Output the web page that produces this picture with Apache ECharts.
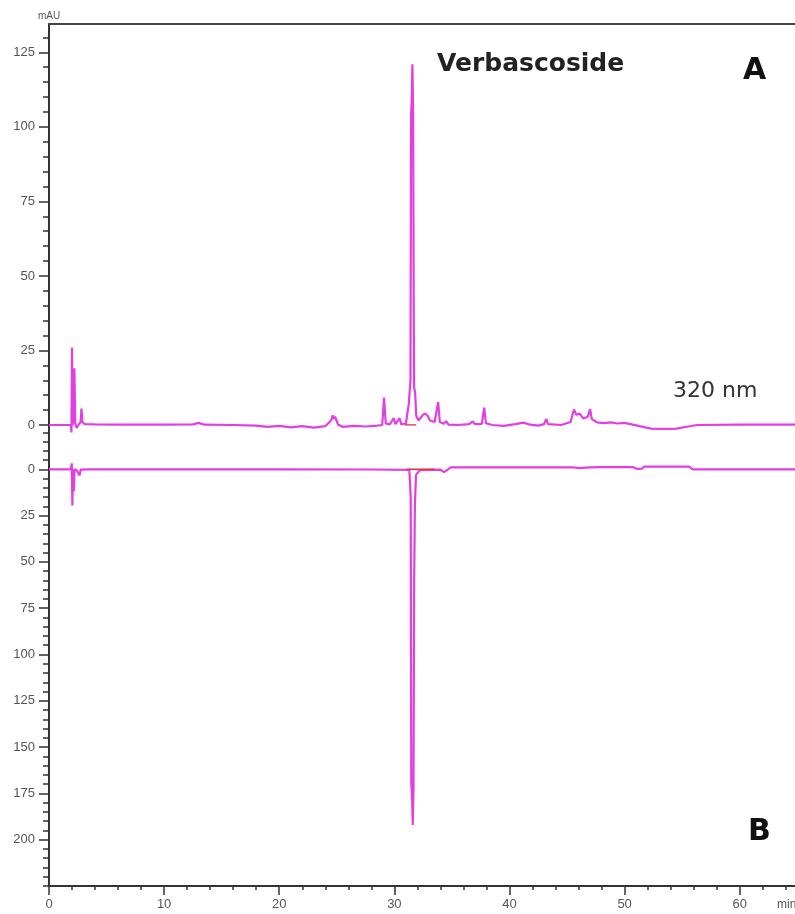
<!DOCTYPE html>
<html>
<head>
<meta charset="utf-8">
<script src="https://cdn.jsdelivr.net/npm/echarts@6/dist/echarts.min.js"></script>
<style>
html,body{margin:0;padding:0;background:#fff;}
#chart{width:795px;height:914px;}
</style>
</head>
<body>
<div id="chart"></div>
<script>
// ---- Data ----
// Trace A (320 nm), time in min, absorbance in mAU
const timeA = [0,1.9,1.95,2.0,2.05,2.12,2.2,2.28,2.4,2.6,2.75,2.82,2.9,3.1,4,6,8,10,12.5,13.0,13.5,16,18,19,20,21,22,23,24,24.5,24.65,24.75,24.85,25.1,25.5,26.5,27.5,28.5,28.95,29.1,29.25,29.6,29.95,30.1,30.45,30.6,31.0,31.25,31.4,31.45,31.5,31.57,31.63,31.68,31.72,31.8,31.9,32.1,32.3,32.5,32.7,32.9,33.1,33.5,33.8,33.95,34.3,34.5,34.7,35.5,36.5,36.8,37.0,37.6,37.8,37.95,38.5,39.5,40.5,41.2,41.8,42.5,43.0,43.2,43.35,44.5,45.3,45.6,45.8,46.1,46.4,46.8,47.0,47.15,47.6,48.2,48.8,49.4,50.0,50.6,51.3,52.3,53.4,54.5,55.4,56.3,60,64.8];
const absA  = [0,0,-2.5,26,0,2,19,0.5,-1,0.3,1,5.5,1,0.3,0.2,0.1,0.1,0.1,0.2,0.7,0.1,0,-0.2,-0.6,-0.3,-0.8,-0.4,-0.9,-0.4,1.5,3.2,2,2.8,0.2,-0.6,-0.3,-0.5,-0.2,0,9.2,0.5,0.2,2.3,0.3,2.3,0.2,0.5,7,15,104,108,121,104,40,12.5,11,3,1.5,2.5,3.5,3.8,3,1.5,1,7.7,1,0.4,1.3,0.1,0,0.3,1.2,0.3,0.4,5.8,0.6,0,-0.3,0.3,0.8,0.1,-0.2,0.3,2,0.3,0,1,5.2,3.5,3.8,2.2,2.8,5.3,2,0.9,0.6,0.9,0.5,0.7,0.2,-0.4,-1.2,-1.3,-1.2,-0.6,0,0.1,0.1];
// Trace B (plotted downward)
const timeB = [0,1.9,1.98,2.03,2.08,2.15,2.22,2.4,2.65,2.75,3.5,10,20,28,31.3,31.42,31.47,31.53,31.6,31.66,31.72,31.78,31.88,32.2,34,34.3,34.6,34.9,38,42,45.5,46,47,48,50.7,51.1,51.5,51.7,55.6,55.9,60,64.8];
const absB  = [0,0,-3.2,19.5,0,12,0,0.5,3.3,0.2,0,0,0,0.1,0.3,15,170,175,192,172,60,20,3,0.5,0.2,1.5,0.3,-1,-1.1,-1,-1.1,-0.6,-1,-1.2,-1.2,-0.2,-0.3,-1.5,-1.4,0,0,0];
// Integration baselines (red)
const baseTimeA = [30.9, 31.9];
const baseAbsA  = [0, 0];
const baseTimeB = [31.1, 33.5];
const baseAbsB  = [0, 0];
// Tick labels
const xTicks = [0,10,20,30,40,50,60];
const yTicksA = [0,25,50,75,100,125];
const yTicksB = [0,25,50,75,100,125,150,175,200];
const xMax = 64.8;

function zip(t, v){ return t.map((x,i)=>[x, v[i]]); }
function steps(a, b, s){ const r=[]; for(let x=a; x<=b+1e-9; x+=s) r.push(Math.round(x*100)/100); return r; }

const axisCol = '#333';
const labelCol = '#555';
const trace = '#e23ee2';

const chart = echarts.init(document.getElementById('chart'), null, {renderer:'canvas'});
chart.setOption({
  animation:false,
  backgroundColor:'#fff',
  grid:[
    {left:49, right:0, top:24, height:401},
    {left:49, right:0, top:423, height:463}
  ],
  xAxis:[
    {gridIndex:0, type:'value', position:'top', min:0, max:xMax,
     axisLine:{show:true, onZero:false, lineStyle:{color:'#444', width:2}},
     axisTick:{show:false}, axisLabel:{show:false}, splitLine:{show:false}},
    {gridIndex:1, type:'value', position:'bottom', min:0, max:xMax, interval:10,
     axisLine:{show:true, onZero:false, lineStyle:{color:axisCol, width:2}},
     axisTick:{show:true, length:9, customValues:xTicks, lineStyle:{color:axisCol, width:1.5}},
     axisLabel:{show:true, customValues:xTicks, margin:12, color:labelCol, fontSize:13, fontFamily:'Liberation Sans'},
     splitLine:{show:false}},
    {gridIndex:1, type:'value', position:'bottom', min:0, max:xMax, interval:2,
     axisLine:{show:false, onZero:false},
     axisTick:{show:true, length:4, customValues:steps(0,64,2), lineStyle:{color:axisCol, width:1.5}},
     axisLabel:{show:false}, splitLine:{show:false}}
  ],
  yAxis:[
    {gridIndex:0, type:'value', position:'left', min:0, max:134.5, interval:25,
     axisLine:{show:true, onZero:false, lineStyle:{color:axisCol, width:2}},
     axisTick:{show:true, length:10, customValues:yTicksA, lineStyle:{color:axisCol, width:1.5}},
     axisLabel:{show:true, customValues:yTicksA, margin:14, color:labelCol, fontSize:13, fontFamily:'Liberation Sans'},
     splitLine:{show:false}},
    {gridIndex:0, type:'value', position:'left', min:0, max:134.5, interval:5,
     axisLine:{show:false, onZero:false},
     axisTick:{show:true, length:6, customValues:steps(0,130,5), lineStyle:{color:axisCol, width:1.5}},
     axisLabel:{show:false}, splitLine:{show:false}},
    {gridIndex:1, type:'value', position:'left', inverse:true, min:-25, max:225, interval:25,
     axisLine:{show:true, onZero:false, lineStyle:{color:axisCol, width:2}},
     axisTick:{show:true, length:10, customValues:yTicksB, lineStyle:{color:axisCol, width:1.5}},
     axisLabel:{show:true, customValues:yTicksB, margin:14, color:labelCol, fontSize:13, fontFamily:'Liberation Sans'},
     splitLine:{show:false}},
    {gridIndex:1, type:'value', position:'left', inverse:true, min:-25, max:225, interval:5,
     axisLine:{show:false, onZero:false},
     axisTick:{show:true, length:6, customValues:steps(-20,225,5), lineStyle:{color:axisCol, width:1.5}},
     axisLabel:{show:false}, splitLine:{show:false}}
  ],
  series:[
    {type:'line', xAxisIndex:0, yAxisIndex:0, data:zip(timeA, absA), showSymbol:false, clip:false,
     lineStyle:{color:trace, width:2.2}, z:3},
    {type:'line', xAxisIndex:1, yAxisIndex:2, data:zip(timeB, absB), showSymbol:false, clip:false,
     lineStyle:{color:trace, width:2.2}, z:3},
    {type:'line', xAxisIndex:0, yAxisIndex:0, data:zip(baseTimeA, baseAbsA), showSymbol:false,
     lineStyle:{color:'#e0303a', width:1.5}, z:4},
    {type:'line', xAxisIndex:1, yAxisIndex:2, data:zip(baseTimeB, baseAbsB), showSymbol:false,
     lineStyle:{color:'#e0303a', width:1.5}, z:4}
  ],
  graphic:[
    {type:'text', left:38, top:11, style:{text:'mAU', fill:labelCol, font:'10px "Liberation Sans"'}},
    {type:'text', x:437, y:64, style:{text:'Verbascoside', fill:'#222', font:'bold 25px "DejaVu Sans"', textVerticalAlign:'middle'}},
    {type:'text', x:743, y:71, style:{text:'A', fill:'#111', font:'bold 30px "DejaVu Sans"', textVerticalAlign:'middle'}},
    {type:'text', x:748, y:832, style:{text:'B', fill:'#111', font:'bold 30px "DejaVu Sans"', textVerticalAlign:'middle'}},
    {type:'text', x:673, y:391, style:{text:'320 nm', fill:'#333', font:'22px "DejaVu Sans"', textVerticalAlign:'middle'}},
    {type:'text', x:777, y:905, style:{text:'min', fill:labelCol, font:'12px "Liberation Sans"', textVerticalAlign:'middle'}}
  ]
});
</script>
</body>
</html>
